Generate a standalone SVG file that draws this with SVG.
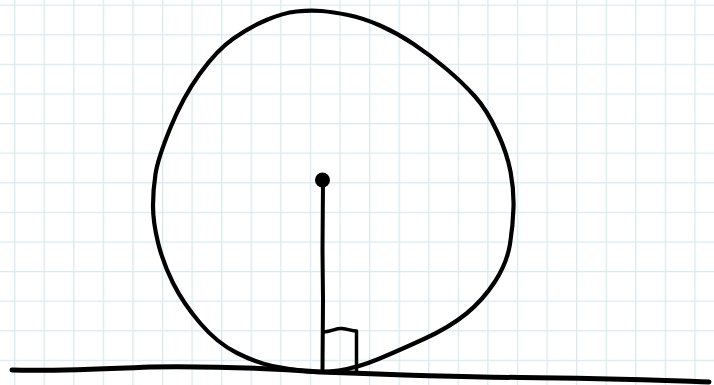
<svg xmlns="http://www.w3.org/2000/svg" width="714" height="385" viewBox="0 0 714 385">
<defs>
<pattern id="grid" x="14" y="4.6" width="29.58" height="29.6" patternUnits="userSpaceOnUse">
<path d="M0 0V29.6M0 0H29.58" fill="none" stroke="#dbe9ed" stroke-width="2.6"/>
</pattern>
<style>
.ink{fill:none;stroke:#000;stroke-linecap:round;stroke-linejoin:round}
</style>
</defs>
<rect width="714" height="385" fill="#fff"/>
<rect width="714" height="385" fill="url(#grid)"/>
<g id="circle">
<path class="ink" stroke-width="4.2" d="M296.5 11.5 Q310 10 321.5 11 Q333 12 348 15 Q363 18 380 25.5 Q397 33 413.5 44 Q430 55 446.5 69 Q463 83 475 96.5 Q487 110 497 131.5 Q507 153 510.5 171.5 Q514 190 513.5 207.5 Q513 225 510 244 Q507 263 495 281.5 Q483 300 466.5 313.5 Q450 327 425 338.5 Q400 350 378.5 359 Q357 368 338.5 370.5 Q320 373 304 371 Q288 369 272.5 366 Q257 363 237 353 Q217 343 200 323 Q183 303 173 283 Q163 263 158 242.5 Q153 222 153 206 Q153 190 155.5 174 Q158 158 170.5 127.5 Q183 97 200 73.5 Q217 50 233.5 38.5 Q250 27 266.5 20 Q283 13 296.5 11.5 Z"/>
</g>
<g id="ground">
<path class="ink" stroke-width="5" d="M12 370 C60 371 100 369 150 367 C230 366 280 369 320 372 C400 375 460 377 520 377.5 C600 378 650 380 709 382"/>
</g>
<g id="center">
<circle cx="322.5" cy="180" r="7.5" fill="#000"/>
</g>
<g id="connectors">
<path class="ink" stroke-width="4" d="M323 182 L322.5 250 L323 300 L322.5 370"/>
<path class="ink" stroke-width="3.5" d="M324 332 C333 331 336 328 342 328.5 C348 329 352 331 356.5 331 L356.5 372"/>
</g>
</svg>
